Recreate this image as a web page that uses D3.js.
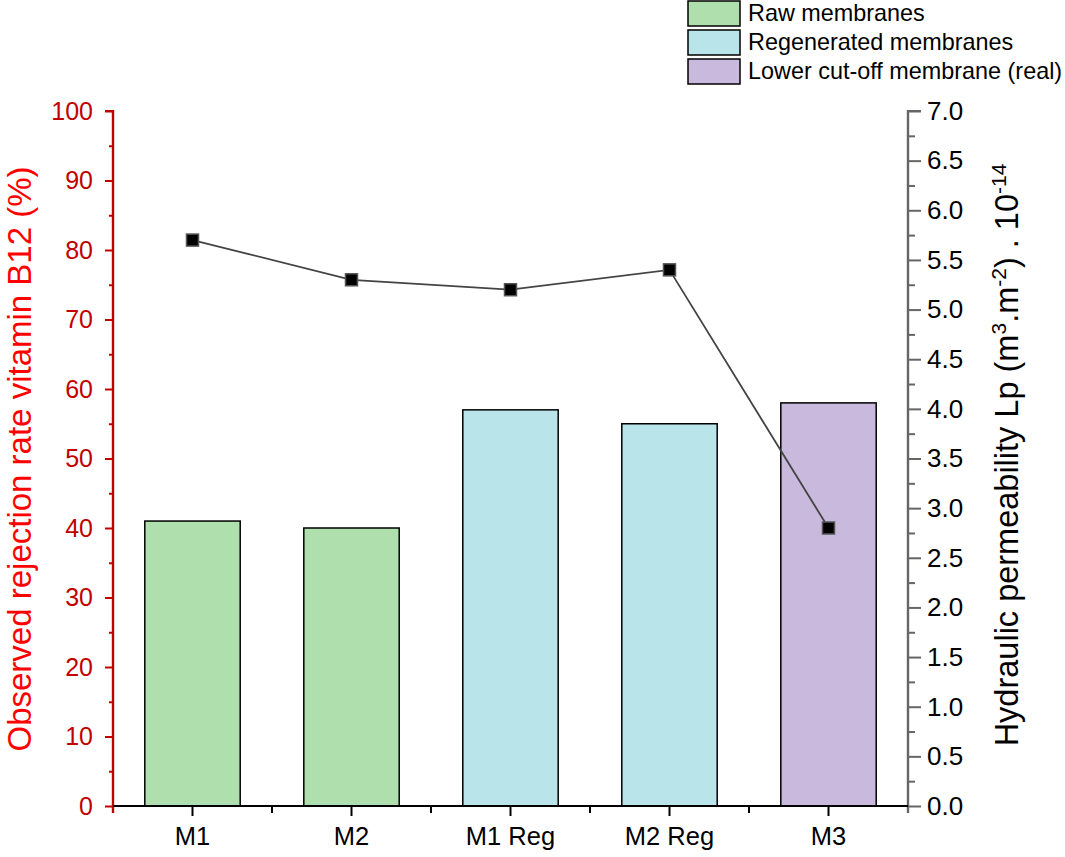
<!DOCTYPE html>
<html>
<head>
<meta charset="utf-8">
<script src="https://cdn.jsdelivr.net/npm/d3@7"></script>
<style>
  html, body { margin: 0; padding: 0; background: #fff; }
  svg { display: block; font-family: "Liberation Sans", Arial, sans-serif; }
</style>
</head>
<body>
<svg id="chart" width="1065" height="857"></svg>
<script>
const categories = ["M1", "M2", "M1 Reg", "M2 Reg", "M3"];
const rejection = [41, 40, 57, 55, 58];
const permeability = [5.7, 5.3, 5.2, 5.4, 2.8];
const groups = ["Raw membranes", "Raw membranes", "Regenerated membranes", "Regenerated membranes", "Lower cut-off membrane (real)"];
const legendLabels = ["Raw membranes", "Regenerated membranes", "Lower cut-off membrane (real)"];
const legendColors = ["#b0dfae", "#b9e4ea", "#c9b9dc"];
const leftTicks = [0, 10, 20, 30, 40, 50, 60, 70, 80, 90, 100];
const rightTicks = [0, 0.5, 1, 1.5, 2, 2.5, 3, 3.5, 4, 4.5, 5, 5.5, 6, 6.5, 7];

const svg = d3.select("#chart");
const L = 113, R = 908, T = 111, B = 806;

const x = d3.scaleBand().domain(categories).range([L, R]).paddingInner(0.4).paddingOuter(0.2);
const xPoint = d3.scaleBand().domain(categories).range([L, R]);
const yL = d3.scaleLinear().domain([0, 100]).range([B, T]);
const yR = d3.scaleLinear().domain([0, 7]).range([B, T]);
const color = d3.scaleOrdinal().domain(legendLabels).range(legendColors);

// bars
svg.append("g").selectAll("rect").data(categories).join("rect")
  .attr("x", d => x(d))
  .attr("y", (d, i) => yL(rejection[i]))
  .attr("width", x.bandwidth())
  .attr("height", (d, i) => yL(0) - yL(rejection[i]))
  .attr("fill", (d, i) => color(groups[i]))
  .attr("stroke", "#000")
  .attr("stroke-width", 1.5);

const FONT = "Liberation Sans, Arial, sans-serif";

// left axis
const leftColor = "#c00000";
const gL = svg.append("g").attr("transform", `translate(${L},0)`)
  .call(d3.axisLeft(yL).tickValues(d3.range(5, 100, 10)).tickSize(4).tickFormat(""));
const gL2 = svg.append("g").attr("transform", `translate(${L},0)`)
  .call(d3.axisLeft(yL).tickValues(leftTicks).tickSize(8).tickPadding(12).tickFormat(d3.format("d")));
[gL, gL2].forEach(g => {
  g.select(".domain").attr("stroke", leftColor).attr("stroke-width", 2.2).attr("d", `M0,${B+7}V${T}H-8`);
  g.selectAll(".tick line").attr("stroke", leftColor).attr("stroke-width", 2);
  g.selectAll(".tick text").attr("fill", leftColor).attr("font-size", 25).attr("font-family", FONT);
});

// right axis
const rightColor = "#666";
const gR = svg.append("g").attr("transform", `translate(${R},0)`)
  .call(d3.axisRight(yR).tickValues(d3.range(0.25, 7, 0.5)).tickSize(7).tickFormat(""));
const gR2 = svg.append("g").attr("transform", `translate(${R},0)`)
  .call(d3.axisRight(yR).tickValues(rightTicks).tickSize(13).tickPadding(6).tickFormat(d3.format(".1f")));
[gR, gR2].forEach(g => {
  g.select(".domain").attr("stroke", rightColor).attr("stroke-width", 2.2).attr("d", `M0,${B+7}V${T}H13`);
  g.selectAll(".tick line").attr("stroke", rightColor).attr("stroke-width", 2);
  g.selectAll(".tick text").attr("fill", "#000").attr("font-size", 26).attr("font-family", FONT);
});

// bottom axis
const gB = svg.append("g").attr("transform", `translate(0,${B})`)
  .call(d3.axisBottom(x).tickSize(10).tickPadding(11));
gB.select(".domain").attr("stroke", "#000").attr("stroke-width", 2).attr("d", `M${L},0H${R}`);
gB.selectAll(".tick line").attr("stroke", "#000").attr("stroke-width", 2);
gB.selectAll(".tick text").attr("fill", "#000").attr("font-size", 25.5).attr("font-family", FONT);
// minor ticks at category boundaries
svg.append("g").selectAll("line").data(categories.slice(1)).join("line")
  .attr("x1", d => xPoint(d)).attr("x2", d => xPoint(d))
  .attr("y1", B).attr("y2", B + 7)
  .attr("stroke", "#000").attr("stroke-width", 2);

// line + markers
const line = d3.line().x((d, i) => x(categories[i]) + x.bandwidth() / 2).y(d => yR(d));
svg.append("path").datum(permeability).attr("d", line)
  .attr("fill", "none").attr("stroke", "#444").attr("stroke-width", 1.8);
svg.append("g").selectAll("rect").data(permeability).join("rect")
  .attr("x", (d, i) => x(categories[i]) + x.bandwidth() / 2 - 6)
  .attr("y", d => yR(d) - 6)
  .attr("width", 12).attr("height", 12)
  .attr("fill", "#000").attr("stroke", "#555").attr("stroke-width", 1.5);

// axis titles
svg.append("text")
  .attr("transform", `translate(31,459) rotate(-90)`)
  .attr("text-anchor", "middle")
  .attr("fill", "#ff0000")
  .attr("font-size", 33)
  .text("Observed rejection rate vitamin B12 (%)");

const rt = svg.append("text")
  .attr("transform", `translate(1018,455) rotate(-90)`)
  .attr("text-anchor", "middle")
  .attr("fill", "#000")
  .attr("font-size", 32.5);
rt.append("tspan").text("Hydraulic permeability Lp (m");
rt.append("tspan").attr("dy", -12).attr("font-size", 21).text("3");
rt.append("tspan").attr("dy", 12).text(".m");
rt.append("tspan").attr("dy", -12).attr("font-size", 21).text("-2");
rt.append("tspan").attr("dy", 12).text(") . 10");
rt.append("tspan").attr("dy", -12).attr("font-size", 21).text("-14");

// legend
const lg = svg.append("g").attr("transform", "translate(688,1)");
legendLabels.forEach((lab, i) => {
  lg.append("rect").attr("x", 0).attr("y", i * 29).attr("width", 52).attr("height", 25)
    .attr("fill", legendColors[i]).attr("stroke", "#000").attr("stroke-width", 1.5);
  lg.append("text").attr("x", 60).attr("y", i * 29 + 20).attr("font-size", 23.4).attr("fill", "#000").text(lab);
});
</script>
</body>
</html>
